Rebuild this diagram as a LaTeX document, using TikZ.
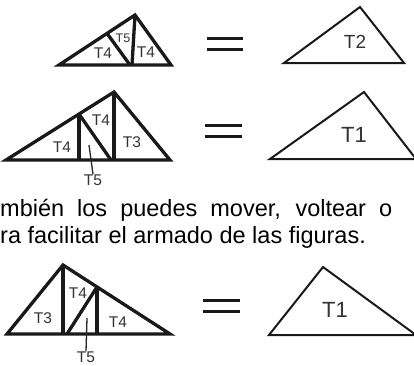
\documentclass[tikz,border=0pt]{standalone}
\usepackage{fontspec}
\setmainfont{Liberation Sans}
\usepackage{tikz}
\usetikzlibrary{calc}

\begin{document}
\begin{tikzpicture}[
    x=1pt, y=-1pt,
    piece/.style={draw=black!90, line width=3.3pt},
    whole/.style={draw=black!90, line width=2pt},
    eqbar/.style={draw=black!90, line width=3.5pt},
    tag/.style={inner sep=0pt, text=black!80, font=\fontsize{15.5}{17}\selectfont},
    tagsmall/.style={tag, font=\fontsize{12.5}{14}\selectfont},
    tagbig/.style={tag, font=\fontsize{22}{25}\selectfont},
    leader/.style={draw=black!85, line width=1.3pt},
    para/.style={inner sep=0pt, anchor=base west, font=\fontsize{23.5}{27}\selectfont}
]
    \useasboundingbox (0,0) rectangle (414,365);

    % first row: T4 + T5 + T4 = T2
    \coordinate (a1) at (59,65);
    \coordinate (b1) at (171,65);
    \coordinate (c1) at (135,15);
    \coordinate (f1) at (132,65);
    \coordinate (m1) at ($(a1)!0.632!(c1)$);
    \draw [piece] (a1) -- (b1) -- (c1) -- cycle;
    \draw [piece] (c1) -- (f1);
    \draw [piece] (m1) -- (130,65);
    \node [tag] (r1t4a) at (103,53) {T4};
    \node [tagsmall] (r1t5) at (123,38) {T5};
    \node [tag] (r1t4b) at (146,52) {T4};

    \draw [eqbar] (207,38.5) -- (243,38.5);
    \draw [eqbar] (207,49.5) -- (243,49.5);

    \coordinate (p1) at (284,63);
    \coordinate (q1) at (404,63);
    \coordinate (s1) at (360,7);
    \draw [whole] (p1) -- (q1) -- (s1) -- cycle;
    \node [tag, font=\fontsize{19}{22}\selectfont] (r1t2) at (355,42) {T2};

    % second row: T4 + T5 + T4 + T3 = T1
    \coordinate (a2) at (6,160);
    \coordinate (b2) at (170,160);
    \coordinate (c2) at (114,92);
    \coordinate (m2) at ($(a2)!0.676!(c2)$);
    \draw [piece] (a2) -- (b2) -- (c2) -- cycle;
    \draw [piece] (c2) -- (114,160);
    \draw [piece] (m2) -- (m2 |- a2);
    \draw [piece] (m2) -- (111,160);
    \node [tag] (r2t4a) at (62,147) {T4};
    \node [tag] (r2t4b) at (101,120) {T4};
    \node [tag] (r2t3) at (132,142) {T3};
    \node [tag] (r2t5) at (93,180) {T5};
    \coordinate (l2) at (89,145);
    \draw [leader] (l2) -- (r2t5.north);

    \draw [eqbar] (205,125.7) -- (242,125.7);
    \draw [eqbar] (205,136.7) -- (242,136.7);

    \coordinate (p2) at (270,159);
    \coordinate (q2) at (416,159);
    \coordinate (s2) at (364,92);
    \draw [whole] (p2) -- (q2) -- (s2) -- cycle;
    \node [tagbig] (r2t1) at (354,135) {T1};

    % the text in between
    \node [para] (line1) at (0,216)
        {\makebox[392pt][s]{mbién los puedes mover, voltear o}};
    \node [para] (line2) at (0,243) {ra facilitar el armado de las figuras.};

    % third row: T3 + T4 + T5 + T4 = T1
    \coordinate (a3) at (7,334);
    \coordinate (b3) at (170,334);
    \coordinate (c3) at (63,265);
    \coordinate (m3) at ($(c3)!0.318!(b3)$);
    \draw [piece] (a3) -- (b3) -- (c3) -- cycle;
    \draw [piece] (c3) -- (63,334);
    \draw [piece] (m3) -- (m3 |- a3);
    \draw [piece] (m3) -- (67,334);
    \node [tag] (r3t3) at (43,318) {T3};
    \node [tag] (r3t4a) at (78,293) {T4};
    \node [tag] (r3t4b) at (118,322) {T4};
    \node [tag] (r3t5) at (86,357) {T5};
    \coordinate (l3) at (87,318);
    \draw [leader] (l3) -- (r3t5.north);

    \draw [eqbar] (203,300.7) -- (240,300.7);
    \draw [eqbar] (203,311.7) -- (240,311.7);

    \coordinate (p3) at (269,335);
    \coordinate (q3) at (416,335);
    \coordinate (s3) at (323,267);
    \draw [whole] (p3) -- (q3) -- (s3) -- cycle;
    \node [tagbig] (r3t1) at (335,310) {T1};
\end{tikzpicture}
\end{document}
